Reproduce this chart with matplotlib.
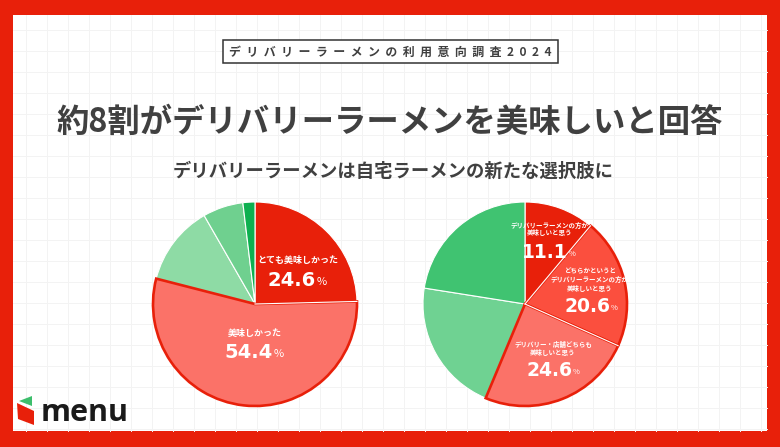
import numpy as np
import matplotlib
matplotlib.use('Agg')
from matplotlib import pyplot as plt
from matplotlib.patches import Rectangle, Polygon

plt.rcParams['font.family'] = ['Noto Sans CJK JP', 'DejaVu Sans']

W, H = 780, 447
RED = '#E8200A'
INK = '#404040'

# survey shares, clockwise from the top
left_values = [24.6, 54.4, 12.7, 6.4, 1.9]
left_colors = [RED, '#FB7268', '#8EDBA5', '#6FD08F', '#0DB050']
right_values = [11.1, 20.6, 24.6, 21.2, 22.5]
right_colors = [RED, '#FB4F3E', '#FB7268', '#6FD292', '#40C371']

header = 'デリバリーラーメンの利用意向調査2024'
title = '約8割がデリバリーラーメンを美味しいと回答'
subtitle = 'デリバリーラーメンは自宅ラーメンの新たな選択肢に'

def py(y):
    # picture rows run downwards
    return H - y

def pie_at(ax, values, colors, cx, cy, r, outlined, white_seps):
    wedges, _ = ax.pie(values, colors=colors, startangle=90, counterclock=False,
                       center=(cx, py(cy)), radius=r, frame=True,
                       wedgeprops=dict(edgecolor='white', linewidth=0.8))
    for i in outlined:
        wedges[i].set_edgecolor(RED)
        wedges[i].set_linewidth(1.9)
        wedges[i].set_zorder(3)
    # thin white separators drawn on top of the thick outline
    edges = np.cumsum(values) / np.sum(values) * 2 * np.pi
    for i in white_seps:
        ax.plot([cx, cx + r * np.sin(edges[i])], [py(cy), py(cy) + r * np.cos(edges[i])],
                color='white', lw=0.8, zorder=4)

def value_label(ax, x, y, number, size=14, pct_size=8):
    ax.text(x, py(y), number, color='white', fontsize=size, fontweight='bold', family='DejaVu Sans',
            ha='right', va='center', zorder=5)
    ax.text(x + 0.5, py(y + 2), '%', color='white', fontsize=pct_size,
            ha='left', va='center', zorder=5)

def small_label(ax, x, y, s, size=4.7):
    ax.text(x, py(y), s, color='white', fontsize=size, fontweight='bold',
            ha='center', va='center', zorder=5)

fig = plt.figure(figsize=(W / 100, H / 100), dpi=100, facecolor=RED)
ax = fig.add_axes([0, 0, 1, 1])

# white sheet with faint grid
ax.add_patch(Rectangle((13, py(431)), 754, 416, facecolor='white', edgecolor='none', zorder=0))
for gx in range(26, 767, 21):
    ax.plot([gx, gx], [py(431), py(15)], color='#F3F3F3', lw=0.7, zorder=1)
for gy in range(30, 431, 21):
    ax.plot([13, 767], [py(gy), py(gy)], color='#F3F3F3', lw=0.7, zorder=1)

# header box
ax.add_patch(Rectangle((222.5, py(63)), 335, 23, facecolor='white', edgecolor='#333333', lw=1.1, zorder=2))
ax.text(390, py(52), '  '.join(header), color=INK, fontsize=8.6, fontweight='bold',
        ha='center', va='center', zorder=3)

ax.text(390, py(122), title, color=INK, fontsize=23.3, fontweight='bold',
        ha='center', va='center', zorder=3)
ax.text(393.5, py(171.5), subtitle, color=INK, fontsize=13.2, fontweight='bold',
        ha='center', va='center', zorder=3)

pie_at(ax, left_values, left_colors, 255, 304, 102, [1], [0])
pie_at(ax, right_values, right_colors, 525, 304, 102, [1, 2], [0, 1])

# left pie labels
small_label(ax, 298, 260, 'とても美味しかった', 6.5)
value_label(ax, 316, 280, '24.6')
small_label(ax, 255, 333, '美味しかった', 6.5)
value_label(ax, 273, 352, '54.4')

# right pie labels
small_label(ax, 550, 225, 'デリバリーラーメンの方が')
small_label(ax, 550, 233, '美味しいと思う')
value_label(ax, 568, 252, '11.1', 13.5, 5.5)
small_label(ax, 590, 271, 'どちらかというと')
small_label(ax, 590, 279, 'デリバリーラーメンの方が')
small_label(ax, 590, 288, '美味しいと思う')
value_label(ax, 610, 306, '20.6', 13.5, 5.5)
small_label(ax, 553, 344, 'デリバリー・店舗どちらも')
small_label(ax, 553, 352, '美味しいと思う')
value_label(ax, 572, 370, '24.6', 13.5, 5.5)

# logo
ax.add_patch(Polygon([(17, py(403)), (34, py(411)), (34, py(425)), (18, py(419))],
                     facecolor=RED, edgecolor='none', zorder=3))
ax.add_patch(Polygon([(19, py(401)), (32, py(396)), (32, py(406))],
                     facecolor='#3DBE6C', edgecolor='none', zorder=3))
ax.text(41, py(421), 'menu', color='#1A1A1A', fontsize=22, fontweight='bold', family='Open Sans',
        ha='left', va='baseline', zorder=3)

ax.set_xlim(0, W)
ax.set_ylim(0, H)
ax.set_aspect('auto')
ax.set_axis_off()

fig.savefig('out.png', dpi=100, facecolor=RED)
